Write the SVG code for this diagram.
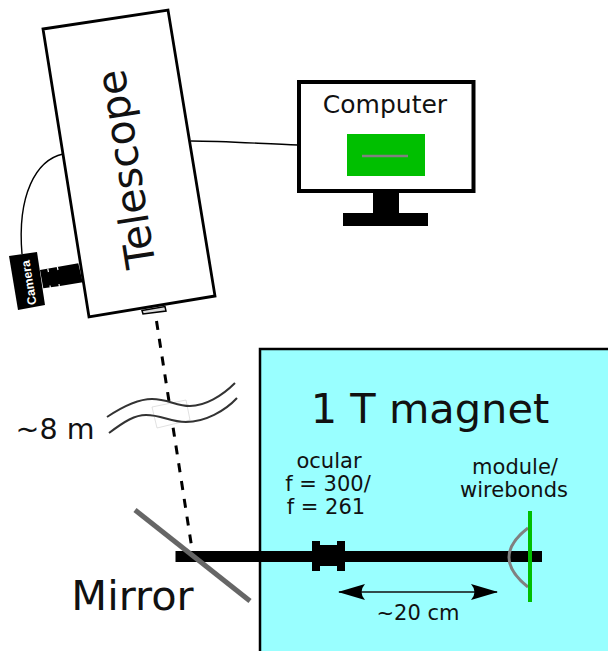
<svg xmlns="http://www.w3.org/2000/svg" width="608" height="651" viewBox="0 0 608 651">
<style>
text{font-family:"DejaVu Sans",sans-serif;fill:#111}
.l{fill:none;stroke:#000;stroke-width:1.4}
.b{fill:#000}
.w{fill:none;stroke:#333;stroke-width:2}
.t{stroke:#fff;stroke-width:1.2}
</style>
<defs>
<marker id="ah" viewBox="0 0 27 16" refX="26" refY="8" markerWidth="27" markerHeight="16" markerUnits="userSpaceOnUse" orient="auto-start-reverse"><path d="M27 8L0 0Q7 8 0 16Z" fill="#000"/></marker>
</defs>
<rect width="608" height="651" fill="#fff"/>
<g id="magnet"><rect x="260" y="349" width="350" height="304" fill="#99ffff" stroke="#000" stroke-width="2.5"/>
<text x="430" y="423" font-size="41.500" text-anchor="middle">1 T magnet</text></g>
<g id="connectors">
<path class="l" d="M63 154C36 160 17 195 22 254"/>
<path class="l" d="M191 141C225 141 265 144 298 145"/>
<path d="M156.500 321L192 549" fill="none" stroke="#000" stroke-width="3" stroke-dasharray="9 9"/>
<path d="M152 407L186 400L190 420L157 428Z" fill="#fff" stroke="#ccc" stroke-width="0.600"/>
<path class="w" d="M107 417C125 405 140 399 152 399C168 399 176 406 190 406C205 406 222 396 235 383"/>
<path class="w" d="M109 433C125 421 135 415 146 415C162 415 170 422 186 422C205 422 225 411 237 398"/>
<path d="M339 592H497" fill="none" stroke="#111" stroke-width="1.500" marker-start="url(#ah)" marker-end="url(#ah)"/>
</g>
<g id="telescope"><path d="M43 29L168 10L215 296L89 317Z" fill="#fff" stroke="#000" stroke-width="2.800"/>
<path d="M142 310.500L165 306.500L166 311L143 314Z" fill="#ddd" stroke="#000" stroke-width="1.500"/>
<text transform="translate(140 167) rotate(-99)" font-size="41" text-anchor="middle">Telescope</text></g>
<g id="camera"><path class="b" d="M40 270L78.300 263.300L82.700 282.300L60 286L43.300 288.300Z"/>
<path class="t" d="M47.700 268.500L48.500 272M57.300 266.800L58 270M50.500 289L50 285.500M59.500 287.500L59 284"/>
<path class="b" d="M9 256L37 252L45 305L18 310Z"/>
<text transform="translate(33 282) rotate(-99)" font-size="12.300" font-weight="bold" text-anchor="middle" style="fill:#fff;font-family:'Liberation Sans',sans-serif">Camera</text></g>
<g id="computer"><rect x="299" y="82" width="174.500" height="109" fill="#fff" stroke="#000" stroke-width="4"/>
<rect x="373" y="192" width="26" height="22" class="b"/><rect x="343" y="213" width="85" height="13" class="b"/>
<rect x="347" y="134" width="78" height="42" fill="#00bf00"/><path d="M362 156H408" stroke="#808080" stroke-width="2.500"/>
<text x="385" y="113" font-size="25" text-anchor="middle">Computer</text></g>
<g id="ocular-rod"><rect x="175.500" y="551" width="366.500" height="11" class="b"/>
<path class="b" d="M312 541H320V545H337V541H345V571H337V566H320V571H312Z"/></g>
<g id="module"><path d="M528 528Q490 557 528 587" fill="none" stroke="#808080" stroke-width="3"/>
<path d="M530 511V602" stroke="#00bf00" stroke-width="4"/></g>
<g id="mirror"><path d="M135 510L250 601" stroke="#666" stroke-width="5"/>
<text x="132.500" y="610" font-size="41.500" text-anchor="middle">Mirror</text></g>
<text x="55" y="439" font-size="28.500" text-anchor="middle">~8 m</text>
<g font-size="21" text-anchor="middle"><text x="329" y="468">ocular</text><text x="328" y="491">f = 300/</text><text x="326" y="514">f = 261</text>
<text x="515" y="474">module/</text><text x="514" y="497">wirebonds</text><text x="418" y="620">~20 cm</text></g>
</svg>
